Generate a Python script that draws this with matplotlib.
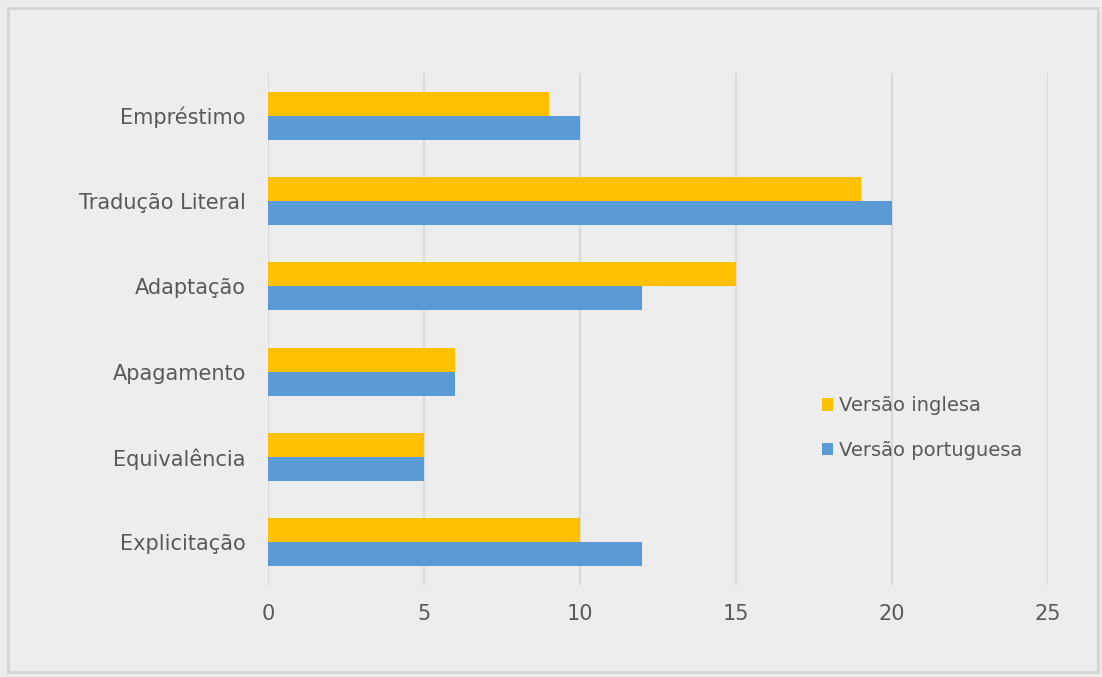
import matplotlib.pyplot as plt
from matplotlib.patches import Rectangle

categories = ['Empréstimo', 'Tradução Literal', 'Adaptação',
              'Apagamento', 'Equivalência', 'Explicitação']
inglesa = [9, 19, 15, 6, 5, 10]
portuguesa = [10, 20, 12, 6, 5, 12]

plt.rcParams['font.family'] = ['DejaVu Sans']

bg = '#ededed'
text_color = '#595959'

fig = plt.figure(figsize=(11.02, 6.77), dpi=100, facecolor=bg)
ax = fig.add_axes([268 / 1102, 1 - 585 / 677, 780 / 1102, 512 / 677])
ax.set_facecolor(bg)

n = len(categories)
pos = [n - 1 - i for i in range(n)]
h = 0.28
ax.barh([p + h / 2 for p in pos], inglesa, height=h, color='#FFC000',
        label='Versão inglesa', zorder=3)
ax.barh([p - h / 2 for p in pos], portuguesa, height=h, color='#5B9BD5',
        label='Versão portuguesa', zorder=3)

ax.set_xlim(0, 25)
ax.set_ylim(-0.5, n - 0.5)
ax.set_xticks([0, 5, 10, 15, 20, 25])
ax.set_yticks(pos)
ax.set_yticklabels(categories)
ax.grid(axis='x', color='#d9d9d9', linewidth=1.5, zorder=0)
for s in ax.spines.values():
    s.set_visible(False)
ax.tick_params(axis='both', length=0, labelsize=15, colors=text_color)
ax.tick_params(axis='x', pad=14)
ax.tick_params(axis='y', pad=16)

handles, labels = ax.get_legend_handles_labels()
leg = ax.legend(handles, labels, loc='center left',
                bbox_to_anchor=(536 / 780, (585 - 428) / 512),
                frameon=False, fontsize=14, handlelength=0.6,
                handleheight=0.6, handletextpad=0.3, labelspacing=1.3,
                labelcolor=text_color)

fig.patches.append(Rectangle((8 / 1102, 5 / 677), 1090 / 1102, 664 / 677,
                             transform=fig.transFigure, fill=False,
                             edgecolor='#d4d4d4', linewidth=2))

fig.savefig('out.png', dpi=100, facecolor=bg)
